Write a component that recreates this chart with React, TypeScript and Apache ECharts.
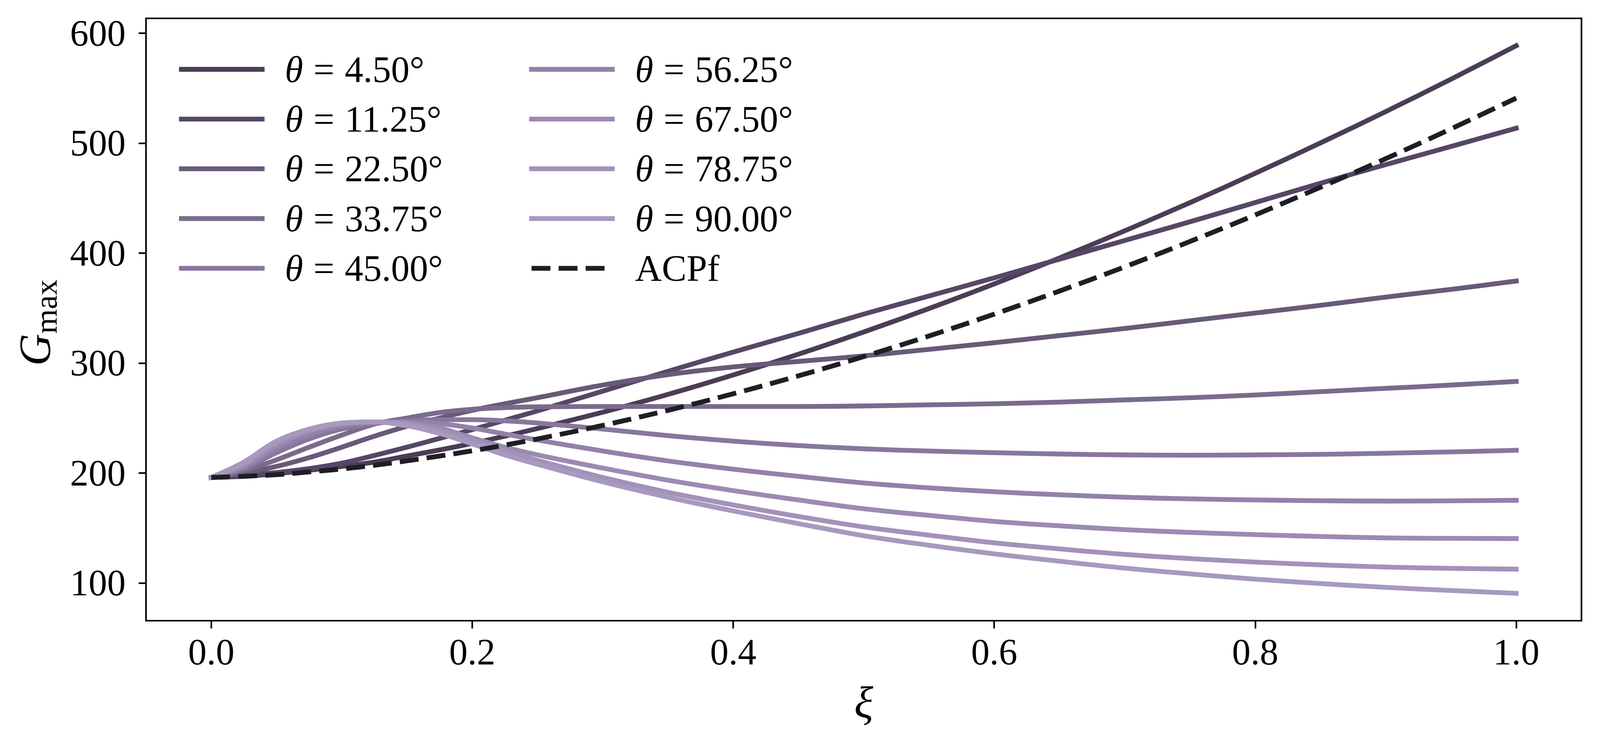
import React, { useEffect, useRef, useState } from 'react';
import * as echarts from 'echarts';

// ---------- data ----------
const xi = [0, 0.025, 0.05, 0.075, 0.1, 0.125, 0.15, 0.175, 0.2, 0.225, 0.25, 0.3, 0.35, 0.4, 0.45, 0.5, 0.55, 0.6, 0.65, 0.7, 0.75, 0.8, 0.85, 0.9, 0.95, 1.0];

const theta0450 = [196, 197, 199.5, 202.5, 206, 210, 215.5, 221, 227, 233.5, 240.5, 255.3, 271.5, 289.2, 308.1, 328.3, 349.6, 372, 395.6, 420.3, 445.9, 472.6, 500.2, 528.7, 558.2, 588.6];
const theta1125 = [196, 198, 200.5, 204, 209, 216, 223.5, 231.5, 239.5, 248, 256.5, 274.5, 292.5, 310, 327, 344.5, 361, 377.5, 394.5, 411.5, 428.5, 446, 463.5, 480.5, 497, 513.6];
const theta2250 = [196, 200, 206, 214, 223.5, 233.5, 242.5, 250, 257, 263, 268.5, 280, 289.5, 296.5, 301.5, 306.5, 312.5, 318.5, 325, 331.5, 338.5, 345.5, 352.5, 360, 367, 374.6];
const theta3375 = [196, 202, 212, 223.5, 234.5, 244.5, 250, 255, 258, 259.5, 260.2, 260.5, 260.5, 260.5, 260.5, 261, 262, 263, 264.5, 266.5, 268.5, 271, 274, 277, 280, 283.3];
const theta4500 = [196, 204, 218.5, 231, 240, 245, 247.5, 248.5, 248.5, 247.5, 245.5, 240, 234, 229, 225, 222, 220, 218.5, 217.3, 216.5, 216.2, 216.5, 217, 218, 219.2, 220.7];
const theta5625 = [196, 205.5, 222, 235, 242.5, 246, 246.5, 245, 241, 235.5, 230, 220, 211, 203.5, 197, 191, 186.5, 183, 180.2, 178, 176.5, 175.5, 174.8, 174.5, 174.7, 175.2];
const theta6750 = [196, 207, 225.5, 238, 244.5, 246.5, 245.5, 241, 232, 223.5, 216.5, 204.5, 193.5, 184, 175.5, 167.5, 161.5, 156, 152, 148.5, 146, 144, 142.3, 141, 140.6, 140.4];
const theta7875 = [196, 208, 227.5, 239, 245, 246.5, 244.5, 238.5, 229.5, 220, 211.5, 196, 182.5, 171, 160.5, 151, 143.5, 136.5, 131, 126, 122.2, 119, 116.5, 114.5, 113.3, 112.6];
const theta9000 = [196, 210, 229, 240, 245.5, 246.5, 243, 236, 226.5, 216.5, 208, 192, 178, 165.5, 154, 143, 134.3, 126.5, 119.8, 113.5, 108.3, 103.5, 99.5, 96, 93.2, 90.6];
const acpf = [196, 197, 198.5, 201, 203.7, 207, 211.1, 215.5, 220.2, 225.4, 231, 243.3, 257, 272.1, 288.4, 305.9, 324.6, 344.5, 365.5, 387.5, 410.6, 434.7, 459.9, 485.9, 513, 541];

const thetaNames = ['θ = 4.50°', 'θ = 11.25°', 'θ = 22.50°', 'θ = 33.75°', 'θ = 45.00°', 'θ = 56.25°', 'θ = 67.50°', 'θ = 78.75°', 'θ = 90.00°'];
const thetaValues = [theta0450, theta1125, theta2250, theta3375, theta4500, theta5625, theta6750, theta7875, theta9000];
const thetaColors = ['#4b3d56', '#564766', '#685a78', '#7a6b8c', '#87779c', '#9381a8', '#9c8ab2', '#a392b8', '#a899bf'];
const acpfName = 'ACPf';
const acpfColor = '#1f1e24';

const xTicks = [0, 0.2, 0.4, 0.6, 0.8, 1.0];
const yTicks = [100, 200, 300, 400, 500, 600];

const FONT = '"Liberation Serif", "Times New Roman", Times, serif';
const REF_W = 4318;
const REF_H = 1920;

function viewScales() {
  const w = window.innerWidth || REF_W;
  const h = window.innerHeight || REF_H;
  return { sx: w / REF_W, sy: h / REF_H };
}

export default function App() {
  const ref = useRef<HTMLDivElement>(null);
  const [sc] = useState(() => viewScales());
  const { sx, sy } = sc;

  useEffect(() => {
    document.body.style.margin = '0';
    const el = ref.current;
    if (!el) return;
    const f = Math.min(sx, sy);
    const px = (v: number) => v * sx; // horizontal metrics
    const py = (v: number) => v * sy; // vertical metrics
    const pf = (v: number) => v * f; // font sizes and strokes
    const chart = echarts.init(el, null, { renderer: 'svg', width: px(REF_W), height: py(REF_H) });

    const series: any[] = thetaNames.map((name, k) => ({
      name,
      type: 'line',
      data: xi.map((x, i) => [x, thetaValues[k][i]]),
      symbol: 'none',
      showSymbol: false,
      smooth: 0.35,
      lineStyle: { color: thetaColors[k], width: pf(13), cap: 'square', join: 'round' },
      itemStyle: { color: thetaColors[k] },
      emphasis: { disabled: true },
      silent: true,
    }));
    series.push({
      name: acpfName,
      type: 'line',
      data: xi.map((x, i) => [x, acpf[i]]),
      symbol: 'none',
      showSymbol: false,
      smooth: 0.35,
      lineStyle: { color: acpfColor, width: pf(13), type: [pf(51), pf(22)], cap: 'butt', join: 'round' },
      itemStyle: { color: acpfColor },
      emphasis: { disabled: true },
      silent: true,
    });

    const tok = { fontFamily: FONT, fontSize: pf(100), lineHeight: pf(120), color: '#000' };
    const legendRich = {
      pad: { ...tok, width: px(56) },
      it: { ...tok, fontStyle: 'italic' },
      rm: { ...tok },
      sp: { ...tok, width: px(28) },
    };
    const legendFormatter = (name: string) => {
      if (name.indexOf('θ') === 0) {
        const val = name.split('= ')[1];
        return `{pad| }{it|θ}{sp| }{rm|=}{sp| }{rm|${val}}`;
      }
      return `{pad| }{rm|${name}}`;
    };
    const legendBase = {
      orient: 'vertical',
      top: py(130),
      padding: 0,
      itemWidth: px(218),
      itemHeight: pf(13),
      itemGap: py(127.2) - pf(100),
      selectedMode: false,
      formatter: legendFormatter,
      textStyle: { fontFamily: FONT, fontSize: pf(100), color: '#000', rich: legendRich },
      lineStyle: { width: pf(13) },
      itemStyle: { opacity: 0 },
    };

    const option: any = {
      animation: false,
      backgroundColor: '#ffffff',
      grid: {
        left: px(394),
        right: px(50),
        top: py(47),
        bottom: py(331),
        show: true,
        borderColor: '#000',
        borderWidth: pf(4.4),
        backgroundColor: 'transparent',
        containLabel: false,
      },
      xAxis: {
        type: 'value',
        min: -0.05,
        max: 1.05,
        axisLine: { show: false, onZero: false },
        splitLine: { show: false },
        axisTick: { show: true, length: py(20), lineStyle: { color: '#000', width: pf(4.4) }, customValues: xTicks },
        axisLabel: {
          customValues: xTicks,
          formatter: (v: number) => v.toFixed(1),
          fontFamily: FONT,
          fontSize: pf(100),
          color: '#000',
          margin: py(32),
        },
      },
      yAxis: {
        type: 'value',
        min: 65.7,
        max: 613.5,
        axisLine: { show: false, onZero: false },
        splitLine: { show: false },
        axisTick: { show: true, length: px(20), lineStyle: { color: '#000', width: pf(4.4) }, customValues: yTicks },
        axisLabel: {
          customValues: yTicks,
          formatter: (v: number) => String(Math.round(v)),
          fontFamily: FONT,
          fontSize: pf(100),
          color: '#000',
          margin: px(55),
        },
      },
      legend: [
        { ...legendBase, left: px(483), data: thetaNames.slice(0, 5) },
        { ...legendBase, left: px(1428), data: [...thetaNames.slice(5), acpfName] },
      ],
      graphic: [
        {
          type: 'text',
          x: px(95),
          y: py(826),
          rotation: Math.PI / 2,
          silent: true,
          style: {
            text: '{g|G}{s|max}',
            align: 'center',
            verticalAlign: 'middle',
            fill: '#000',
            rich: {
              g: { fontFamily: FONT, fontSize: pf(120), fontStyle: 'italic', lineHeight: pf(144), fill: '#000' },
              s: { fontFamily: FONT, fontSize: pf(85), lineHeight: pf(85), verticalAlign: 'bottom', fill: '#000' },
            },
          },
        },
        {
          type: 'text',
          x: px(2331),
          y: py(1799),
          silent: true,
          style: {
            text: 'ξ',
            fontFamily: FONT,
            fontSize: pf(120),
            fontStyle: 'italic',
            fill: '#000',
            align: 'center',
            verticalAlign: 'middle',
          },
        },
      ],
      series,
    };

    chart.setOption(option);
    return () => chart.dispose();
  }, [sx, sy]);

  return (
    <div
      ref={ref}
      style={{ width: REF_W * sx, height: REF_H * sy, position: 'fixed', left: 0, top: 0, background: '#fff' }}
    />
  );
}
